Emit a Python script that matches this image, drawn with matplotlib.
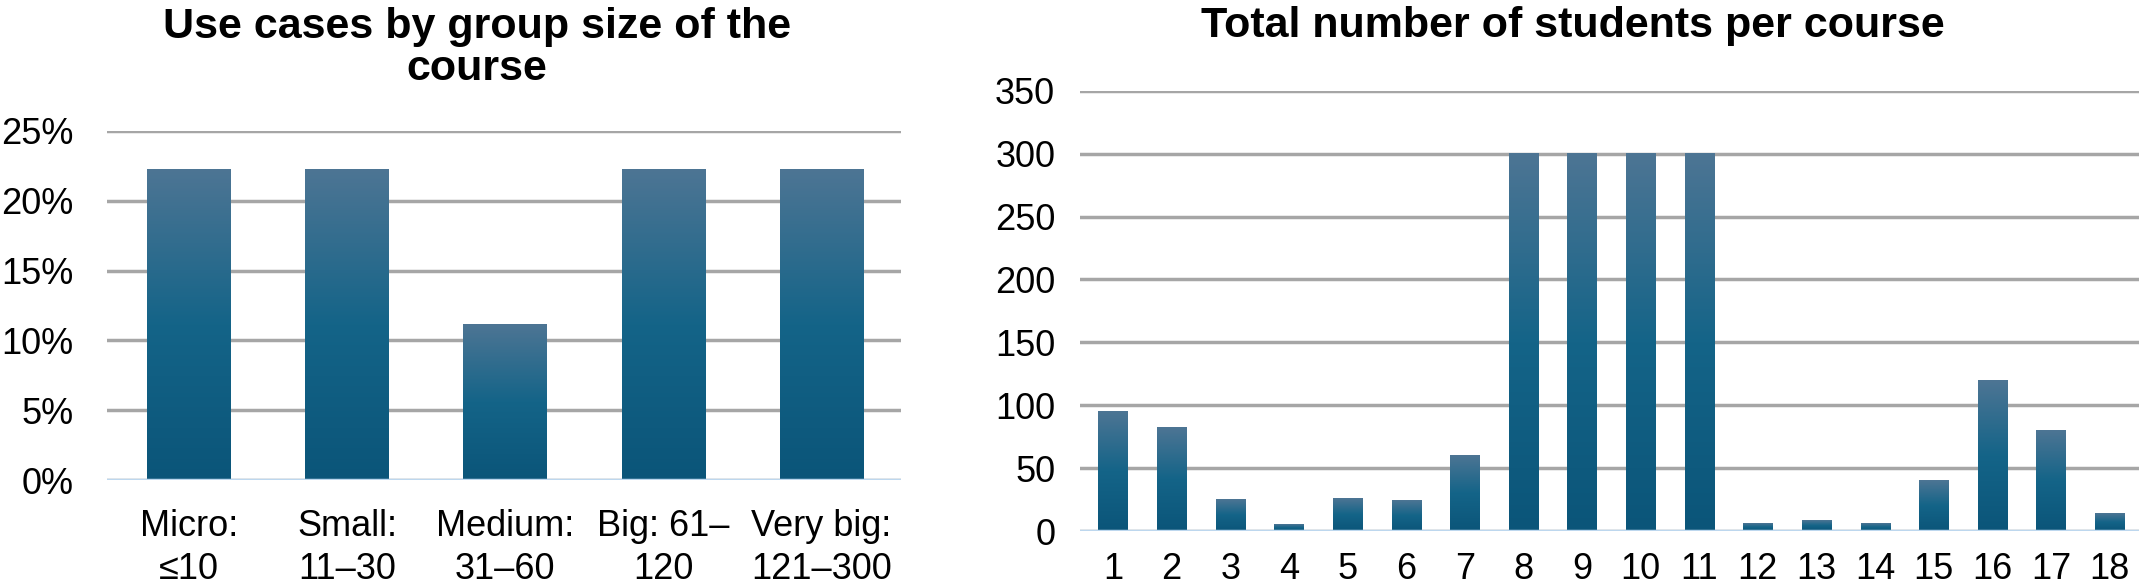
import numpy as np
import matplotlib
matplotlib.use('Agg')
from matplotlib import pyplot as plt
from matplotlib.colors import LinearSegmentedColormap

plt.rcParams['font.family'] = ['Liberation Sans', 'DejaVu Sans']

# left chart data
size_labels = ['Micro:\n≤10', 'Small:\n11–30', 'Medium:\n31–60', 'Big: 61–\n120', 'Very big:\n121–300']
size_share = [0.222, 0.222, 0.111, 0.222, 0.222]

# right chart data
course_ids = list(range(1, 19))
students = [95, 82, 25, 5, 26, 24, 60, 300, 300, 300, 300, 6, 8, 6, 40, 120, 80, 14]

bar_cmap = LinearSegmentedColormap.from_list(
    'bar', ['#0B5579', '#146488', '#4D7594'])
grad = np.linspace(0, 1, 256).reshape(-1, 1)


def gradient_bars(ax, xs, heights, width):
    '''Draw bars filled with a vertical gradient'''
    for x, h in zip(xs, heights):
        ax.imshow(grad, cmap=bar_cmap, origin='lower', aspect='auto',
                  extent=[x - width / 2, x + width / 2, 0, h], zorder=3,
                  interpolation='bilinear')


def style_axes(ax):
    for s in ax.spines.values():
        s.set_visible(False)
    ax.axhline(0, color='#BDD7EE', lw=2.5, zorder=4)
    ax.yaxis.grid(True, color='#A6A6A6', lw=2.5, zorder=0)
    ax.set_axisbelow(True)
    ax.tick_params(length=0, labelsize=26)


fig = plt.figure(figsize=(21.39, 5.87), dpi=100)

ax1 = fig.add_axes([0.05, 0.182, 0.371, 0.595])
gradient_bars(ax1, range(len(size_labels)), size_share, 0.53)
ax1.set_xlim(-0.52, len(size_labels) - 0.5)
ax1.set_ylim(0, 0.25)
ax1.set_yticks(np.arange(0, 0.26, 0.05))
ax1.set_yticklabels(['%d%%' % round(v * 100) for v in np.arange(0, 0.26, 0.05)])
ax1.set_xticks(range(len(size_labels)))
ax1.set_xticklabels(size_labels, linespacing=1.3)
style_axes(ax1)
ax1.tick_params(axis='x', pad=21)
ax1.tick_params(axis='y', pad=24)
ax1.set_title('Use cases by group size of the\ncourse', fontsize=31,
              fontweight='bold', pad=37, linespacing=1.05, x=0.466)

ax2 = fig.add_axes([0.505, 0.0954, 0.495, 0.750])
gradient_bars(ax2, course_ids, students, 0.5)
ax2.set_xlim(0.44, 18.5)
ax2.set_ylim(0, 350)
ax2.set_yticks(range(0, 351, 50))
ax2.set_xticks(course_ids)
style_axes(ax2)
ax2.tick_params(axis='x', pad=15)
ax2.tick_params(axis='y', pad=18)
ax2.set_title('Total number of students per course', fontsize=31,
              fontweight='bold', pad=39, x=0.465)

fig.savefig('out.png', dpi=100)
